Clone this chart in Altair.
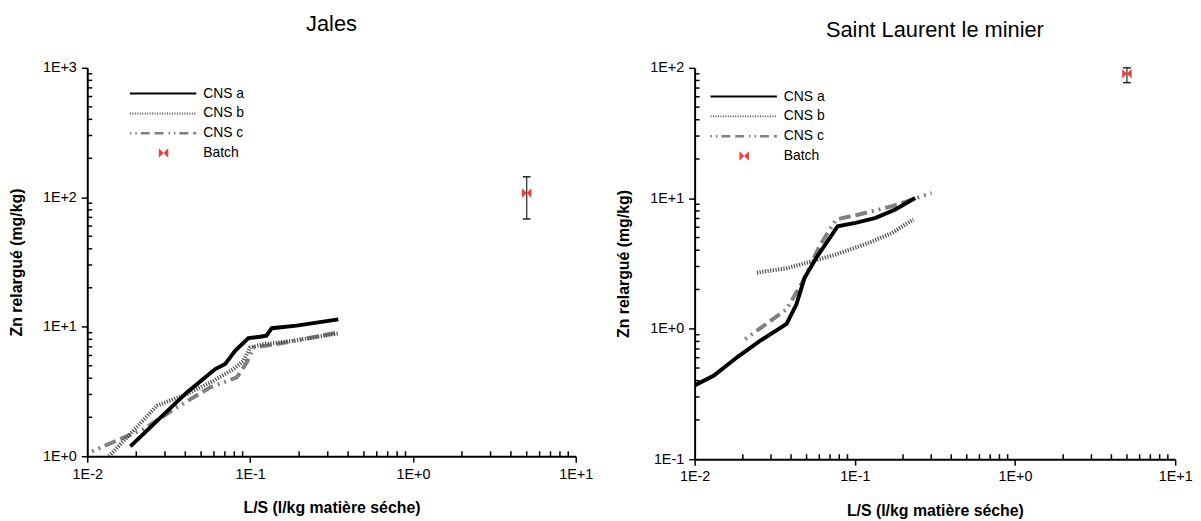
import altair as alt
import pandas as pd
import math

FONT = "Liberation Sans"

# ---- Jales ----
jales_a_x = [0.0184, 0.0409, 0.0611, 0.0703, 0.0809, 0.0977, 0.115, 0.126, 0.136, 0.193, 0.348]
jales_a_y = [1.19, 3.11, 4.71, 5.15, 6.53, 8.17, 8.37, 8.52, 9.75, 10.2, 11.4]
jales_b_x = [0.0136, 0.0184, 0.0268, 0.0409, 0.0597, 0.0791, 0.0912, 0.100, 0.121, 0.184, 0.348]
jales_b_y = [1.0, 1.49, 2.46, 3.02, 3.83, 4.71, 5.47, 6.92, 7.34, 7.80, 8.88]
jales_c_x = [0.0107, 0.0139, 0.0222, 0.0356, 0.0569, 0.0829, 0.0955, 0.105, 0.146, 0.348]
jales_c_y = [1.09, 1.26, 1.62, 2.39, 3.40, 4.06, 5.31, 6.92, 7.34, 9.04]
jales_batch_x = [5.0]
jales_batch_y = [108]
jales_batch_lo = [68]
jales_batch_hi = [144]

# ---- Saint Laurent le minier ----
slm_a_x = [0.0100, 0.0132, 0.0184, 0.0257, 0.0375, 0.0432, 0.0486, 0.0575, 0.0782, 0.101, 0.135, 0.179, 0.238]
slm_a_y = [0.367, 0.438, 0.604, 0.81, 1.09, 1.54, 2.46, 3.50, 6.11, 6.48, 7.07, 8.2, 10.05]
slm_b_x = [0.0245, 0.0375, 0.0548, 0.0764, 0.123, 0.171, 0.232]
slm_b_y = [2.69, 2.91, 3.30, 3.72, 4.56, 5.43, 6.88]
slm_c_x = [0.0207, 0.0269, 0.0375, 0.0475, 0.0602, 0.0764, 0.106, 0.171, 0.302]
slm_c_y = [0.834, 1.05, 1.41, 2.32, 4.30, 6.88, 7.51, 8.69, 10.97]
slm_batch_x = [5.0]
slm_batch_y = [90]
slm_batch_lo = [77]
slm_batch_hi = [100]

legend_labels = ["CNS a", "CNS b", "CNS c", "Batch"]
x_ticks = [0.01, 0.1, 1, 10]
x_title = "L/S (l/kg matière séche)"
y_title = "Zn relargué (mg/kg)"

LABEL_EXPR = "'1E' + (datum.value >= 1 ? '+' : '-') + format(abs(round(log(datum.value)/LN10)), 'd')"
BOWTIE = "M-1,-1L0,0L-1,1Z M1,-1L0,0L1,1Z"
RED = "#f23a3a"


def minor_vals(lo_exp, hi_exp):
    out = []
    for e in range(lo_exp, hi_exp):
        for m in range(2, 10):
            out.append(m * 10 ** e)
    return out


def panel(title, ax, ay, bx, by, cx, cy, btx, bty, blo, bhi, ydom, W, H, leg_x, leg_y0, batch_leg_x, toff):
    y_exps = [round(math.log10(v)) for v in ydom]
    y_ticks = [10 ** e for e in range(y_exps[0], y_exps[1] + 1)]
    xs = alt.Scale(type="log", domain=[0.01, 10], nice=False)
    ys = alt.Scale(type="log", domain=ydom, nice=False)
    common = dict(labelExpr=LABEL_EXPR, grid=False, labelFlush=False, labelOverlap=False,
                  domainColor="black", domainWidth=2, tickColor="black", tickWidth=1.5, tickSize=6,
                  labelFont=FONT, labelFontSize=14.5, labelColor="black", labelPadding=5,
                  titleFont=FONT, titleFontSize=16, titleFontWeight="bold", titleColor="black")
    xax = alt.Axis(values=x_ticks, title=x_title, titlePadding=19, **common)
    yax = alt.Axis(values=y_ticks, title=y_title, titlePadding=18, **common)

    def line_df(x, y):
        return pd.DataFrame({"x": x, "y": y, "i": list(range(len(x)))})

    base_enc = dict(
        x=alt.X("x:Q", scale=xs, axis=xax),
        y=alt.Y("y:Q", scale=ys, axis=yax),
        order="i:Q",
    )

    la = alt.Chart(line_df(ax, ay)).mark_line(color="black", strokeWidth=4, clip=True).encode(**base_enc)
    lb = alt.Chart(line_df(bx, by)).mark_line(color="#4d4d4d", strokeWidth=4, strokeDash=[1.2, 1.5], clip=True).encode(**base_enc)
    lc = alt.Chart(line_df(cx, cy)).mark_line(color="#808080", strokeWidth=4, strokeDash=[2, 5, 2, 5, 12, 5, 12, 5], clip=True).encode(**base_enc)

    bdf = pd.DataFrame({"x": btx, "y": bty, "lo": blo, "hi": bhi})
    err = alt.Chart(bdf).mark_rule(color="#222222", strokeWidth=1.2).encode(
        x=alt.X("x:Q", scale=xs), y=alt.Y("lo:Q", scale=ys), y2="hi:Q")
    cap_lo = alt.Chart(bdf).mark_point(shape="M-1,0L1,0", filled=False, color="#222222", size=60, strokeWidth=1.5, opacity=1).encode(
        x=alt.X("x:Q", scale=xs), y=alt.Y("lo:Q", scale=ys))
    cap_hi = alt.Chart(bdf).mark_point(shape="M-1,0L1,0", filled=False, color="#222222", size=60, strokeWidth=1.5, opacity=1).encode(
        x=alt.X("x:Q", scale=xs), y=alt.Y("hi:Q", scale=ys))
    pt = alt.Chart(bdf).mark_point(shape=BOWTIE, filled=True, color=RED, size=90, opacity=1).encode(
        x=alt.X("x:Q", scale=xs), y=alt.Y("y:Q", scale=ys))

    # minor ticks (inward)
    mx = pd.DataFrame({"v": minor_vals(-2, 1)})
    my = pd.DataFrame({"v": minor_vals(y_exps[0], y_exps[1])})
    minor_x = alt.Chart(mx).mark_rule(color="black", strokeWidth=1.5).encode(
        x=alt.X("v:Q", scale=xs), y=alt.value(H), y2=alt.value(H - 5))
    minor_y = alt.Chart(my).mark_rule(color="black", strokeWidth=1.5).encode(
        y=alt.Y("v:Q", scale=ys), x=alt.value(0), x2=alt.value(5))

    # legend
    layers = [minor_x, minor_y, lc, lb, la, err, cap_lo, cap_hi, pt]
    styles = [
        dict(color="black", strokeWidth=2),
        dict(color="#4d4d4d", strokeWidth=2, strokeDash=[1, 1.5]),
        dict(color="#808080", strokeWidth=2.5, strokeDash=[1.5, 4, 1.5, 4, 9, 5, 9, 5]),
    ]
    for k, lab in enumerate(legend_labels):
        yy = leg_y0 + 20 * k
        d = pd.DataFrame({"label": [lab]})
        if k < 3:
            layers.append(alt.Chart(d).mark_rule(**styles[k]).encode(
                x=alt.value(leg_x), x2=alt.value(leg_x + 67), y=alt.value(yy)))
        else:
            layers.append(alt.Chart(d).mark_point(shape=BOWTIE, filled=True, color=RED, size=90, opacity=1).encode(
                x=alt.value(batch_leg_x), y=alt.value(yy)))
        layers.append(alt.Chart(d).mark_text(align="left", baseline="middle", font=FONT, fontSize=14, color="black").encode(
            x=alt.value(leg_x + 74), y=alt.value(yy), text="label:N"))

    return alt.layer(*layers).properties(
        width=W, height=H,
        title=alt.TitleParams(title, font=FONT, fontSize=22, fontWeight="normal", color="black", anchor="middle", offset=toff),
    )


left = panel("Jales", jales_a_x, jales_a_y, jales_b_x, jales_b_y, jales_c_x, jales_c_y,
             jales_batch_x, jales_batch_y, jales_batch_lo, jales_batch_hi,
             [1, 1000], 493, 392, 43, 26, 77, 24)
right = panel("Saint Laurent le minier", slm_a_x, slm_a_y, slm_b_x, slm_b_y, slm_c_x, slm_c_y,
              slm_batch_x, slm_batch_y, slm_batch_lo, slm_batch_hi,
              [0.1, 100], 485, 395, 16, 29, 50, 18)

chart = alt.hconcat(left, right, spacing=22).properties(
    padding={"left": 0, "top": 3, "right": 0, "bottom": 0}
).configure_view(stroke=None)

chart.save("out.html", embed_options={"renderer": "svg", "actions": False})
